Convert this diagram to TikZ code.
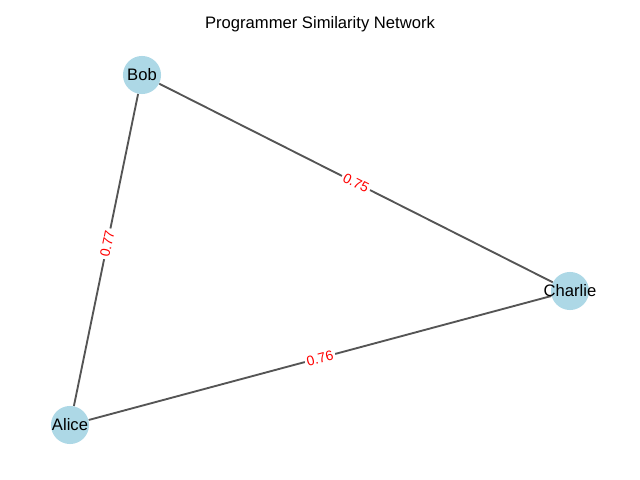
\documentclass[tikz,border=0pt]{standalone}
\usepackage{fontspec}
\setmainfont{Liberation Sans}
\usetikzlibrary{backgrounds}
\definecolor{nodeblue}{HTML}{ADD8E6}
\definecolor{edgegray}{HTML}{555555}
\tikzset{
  person/.style={circle,fill=nodeblue,inner sep=0pt,minimum size=27.5pt,font=\fontsize{12}{14}\selectfont},
  link/.style={edgegray,line width=1.35pt},
  weight/.style={midway,sloped,fill=white,rounded corners=2pt,inner sep=1.5pt,text=red,font=\fontsize{10}{12}\selectfont}
}
\begin{document}
\begin{tikzpicture}[x=0.01in,y=-0.01in]
		\useasboundingbox (0,0) rectangle (640,480); % page size of the plot
		\node[font=\fontsize{12}{14}\selectfont] (title) at (320,24) {Programmer Similarity Network};
		% the three people
		\node[person] (bob) at (142,75) {\makebox[0pt]{Bob}};
		\node[person] (charlie) at (570,291) {\makebox[0pt]{Charlie}};
		\node[person] (alice) at (70,425) {\makebox[0pt]{Alice}};
		\begin{scope}[on background layer] % edges go under the nodes
		\draw[link] (bob) -- (charlie) node[weight] {0.75};
		\draw[link] (alice) -- (bob) node[weight,pos=0.52] {0.77};
		\draw[link] (alice) -- (charlie) node[weight] {0.76};
		\end{scope}
		\end{tikzpicture}
\end{document}
